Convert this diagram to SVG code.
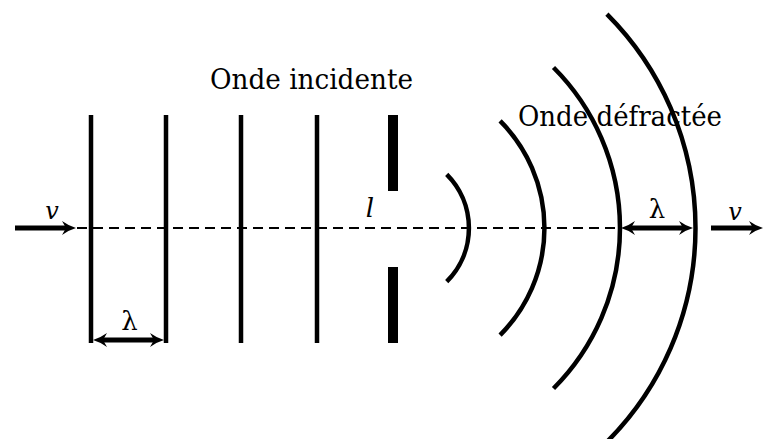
<svg xmlns="http://www.w3.org/2000/svg" width="763" height="439" viewBox="0 0 763 439">
<style>
.w{fill:none;stroke:#000;stroke-width:4.5}
.ar{fill:none;stroke:#000;stroke-width:5}
.t{font-family:'DejaVu Serif',serif;fill:#000}
.m{font-family:'DejaVu Serif',serif;font-style:italic;fill:#000;text-anchor:middle}
</style>
<defs>
<marker id="ah" viewBox="-15 -8 16 16" markerWidth="16" markerHeight="16" refX="-9" refY="0" orient="auto-start-reverse" markerUnits="userSpaceOnUse">
<path d="M0,0 Q-7,-2 -14,-7 L-10,0 L-14,7 Q-7,2 0,0 Z" fill="#000"/>
</marker>
</defs>
<rect width="763" height="439" fill="#fff"/>
<g id="axis">
<line x1="77" y1="228" x2="616" y2="228" stroke="#000" stroke-width="2" stroke-dasharray="10,6"/>
</g>
<g id="incident">
<line class="w" x1="91" y1="115" x2="91" y2="343"/>
<line class="w" x1="166" y1="115" x2="166" y2="343"/>
<line class="w" x1="241" y1="115" x2="241" y2="343"/>
<line class="w" x1="317" y1="115" x2="317" y2="343"/>
</g>
<g id="slit">
<rect x="388" y="115" width="10" height="76" fill="#000"/>
<rect x="388" y="267" width="10" height="76" fill="#000"/>
</g>
<g id="diffracted">
<path class="w" d="M446.7,174.3 A76,76 0 0 1 446.7,281.7"/>
<path class="w" d="M500.1,120.9 A151.5,151.5 0 0 1 500.1,335.1"/>
<path class="w" d="M553.5,67.5 A227,227 0 0 1 553.5,388.5"/>
<path class="w" d="M606.9,14.1 A302.5,302.5 0 0 1 606.9,441.9"/>
</g>
<g id="connectors">
<line class="ar" x1="15" y1="228" x2="67" y2="228" marker-end="url(#ah)"/>
<line class="ar" x1="102" y1="340" x2="155" y2="340" marker-start="url(#ah)" marker-end="url(#ah)"/>
<line class="ar" x1="630" y1="228" x2="684" y2="228" marker-start="url(#ah)" marker-end="url(#ah)"/>
<line class="ar" x1="711" y1="228" x2="754" y2="228" marker-end="url(#ah)"/>
</g>
<g id="labels">
<text class="t" x="210" y="89" font-size="27" textLength="203" lengthAdjust="spacingAndGlyphs">Onde incidente</text>
<text class="t" x="518" y="126" font-size="27" textLength="204" lengthAdjust="spacingAndGlyphs">Onde défractée</text>
<text class="m" x="52" y="219" font-size="24">v</text>
<text class="m" x="370" y="217" font-size="26">l</text>
<text class="t" x="129.5" y="330" font-size="26" text-anchor="middle">λ</text>
<text class="t" x="657" y="218" font-size="26" text-anchor="middle">λ</text>
<text class="m" x="735" y="220" font-size="24">v</text>
</g>
</svg>
